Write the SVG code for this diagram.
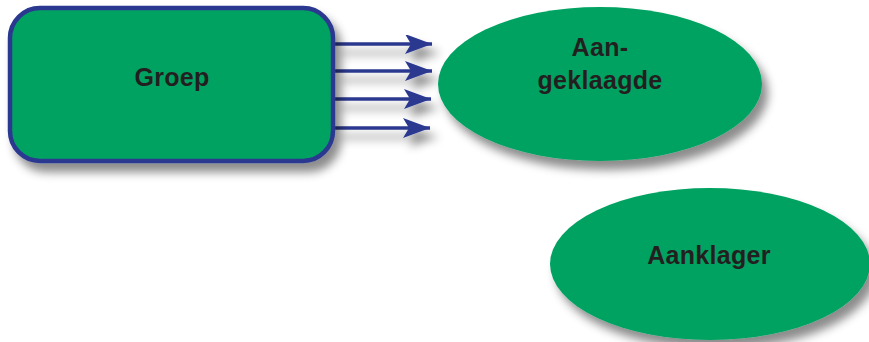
<svg xmlns="http://www.w3.org/2000/svg" width="869" height="342" viewBox="0 0 869 342">
  <defs>
    <filter id="shadow" x="-10%" y="-10%" width="130%" height="150%">
      <feDropShadow dx="6" dy="9" stdDeviation="5" flood-color="#000" flood-opacity="0.45"/>
    </filter>
    <marker id="head" viewBox="0 0 27 20" refX="27" refY="10" markerWidth="27" markerHeight="20" markerUnits="userSpaceOnUse" orient="auto">
      <path d="M0,0 L27,10 L0,20 L6,10 Z" fill="#2b3990"/>
    </marker>
  </defs>
  <style>
    .node { fill: #00a262; }
    .box { stroke: #2b3990; stroke-width: 4.5; }
    .label { font-family: "Liberation Sans", Arial, sans-serif; font-weight: bold; font-size: 25px; fill: #231f20; text-anchor: middle; letter-spacing: 0.3px; }
    .link { stroke: #2b3990; stroke-width: 3.5; fill: none; marker-end: url(#head); }
  </style>

  <g id="connectors" filter="url(#shadow)">
    <line class="link" x1="335" y1="44" x2="432" y2="44"/>
    <line class="link" x1="335" y1="71" x2="432" y2="71"/>
    <line class="link" x1="335" y1="99" x2="431" y2="99"/>
    <line class="link" x1="335" y1="128" x2="430" y2="128"/>
  </g>

  <g id="groep">
    <rect class="node box" x="10" y="8" width="323" height="153" rx="30" ry="30" filter="url(#shadow)"/>
    <text class="label" x="172" y="86">Groep</text>
  </g>

  <g id="aangeklaagde">
    <ellipse class="node" cx="600" cy="84" rx="162" ry="77" filter="url(#shadow)"/>
    <text class="label" x="600" y="56">Aan-</text>
    <text class="label" x="600" y="89">geklaagde</text>
  </g>

  <g id="aanklager">
    <ellipse class="node" cx="710" cy="264" rx="160" ry="76" filter="url(#shadow)"/>
    <text class="label" x="709" y="264">Aanklager</text>
  </g>
</svg>
